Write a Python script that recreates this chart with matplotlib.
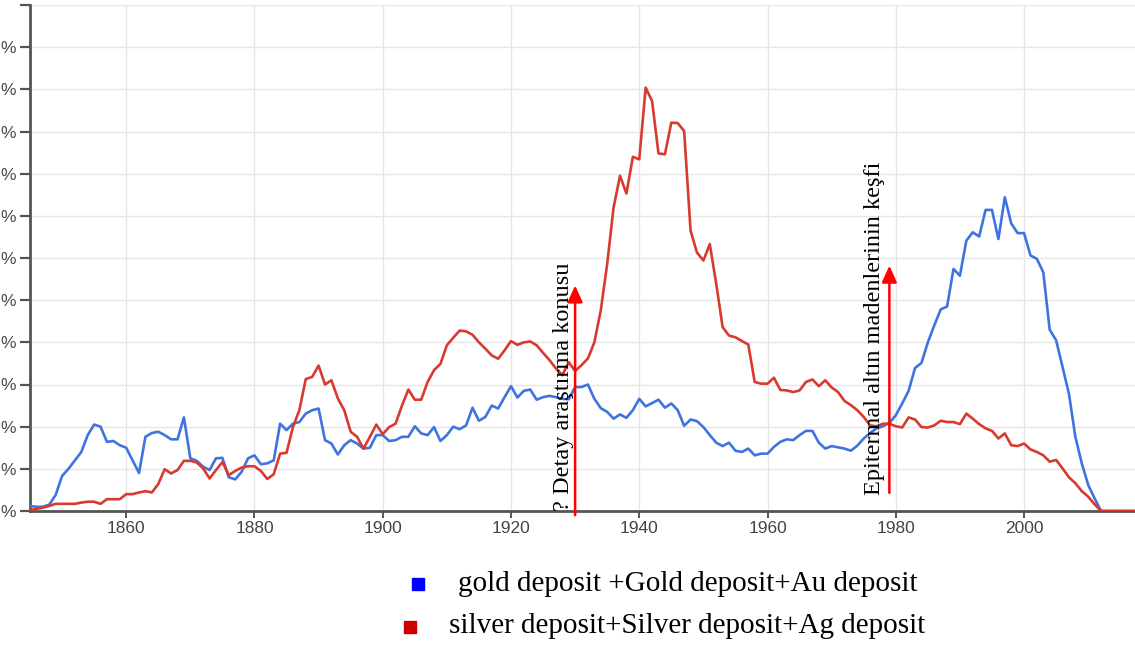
import numpy as np
import matplotlib
matplotlib.use('Agg')
import matplotlib.pyplot as plt
from matplotlib.patches import Rectangle

#################################################
# DATA (grid units)
#################################################
years = list(range(1845, 2020))

gold = [
    0.12, 0.10, 0.10, 0.15, 0.38, 0.83, 1.00, 1.20, 1.40, 1.80,   # 1845-1854
    2.05, 2.00, 1.64, 1.66, 1.56, 1.50, 1.20, 0.90, 1.76, 1.85,   # 1855-1864
    1.88, 1.80, 1.70, 1.70, 2.22, 1.25, 1.19, 1.05, 0.97, 1.25,   # 1865-1874
    1.26, 0.80, 0.75, 0.93, 1.25, 1.32, 1.11, 1.13, 1.20, 2.07,   # 1875-1884
    1.92, 2.07, 2.11, 2.31, 2.39, 2.43, 1.68, 1.60, 1.34, 1.56,   # 1885-1894
    1.68, 1.60, 1.48, 1.50, 1.80, 1.80, 1.66, 1.68, 1.76, 1.76,   # 1895-1904
    2.01, 1.84, 1.80, 1.99, 1.66, 1.80, 2.00, 1.94, 2.03, 2.45,   # 1905-1914
    2.14, 2.23, 2.50, 2.43, 2.70, 2.96, 2.69, 2.85, 2.88, 2.64,   # 1915-1924
    2.70, 2.73, 2.70, 2.66, 2.65, 2.94, 2.94, 3.00, 2.66, 2.44,   # 1925-1934
    2.35, 2.19, 2.29, 2.21, 2.39, 2.66, 2.48, 2.56, 2.64, 2.45,   # 1935-1944
    2.55, 2.39, 2.02, 2.17, 2.13, 1.99, 1.80, 1.62, 1.54, 1.62,   # 1945-1954
    1.43, 1.40, 1.48, 1.32, 1.36, 1.36, 1.52, 1.64, 1.70, 1.68,   # 1955-1964
    1.80, 1.90, 1.90, 1.62, 1.48, 1.54, 1.51, 1.48, 1.43, 1.55,   # 1965-1974
    1.72, 1.85, 1.96, 2.01, 2.09, 2.27, 2.55, 2.85, 3.39, 3.51,   # 1975-1984
    4.00, 4.40, 4.78, 4.85, 5.74, 5.58, 6.41, 6.61, 6.51, 7.14,   # 1985-1994
    7.14, 6.45, 7.44, 6.82, 6.59, 6.59, 6.06, 5.98, 5.66, 4.30,   # 1995-2004
    4.05, 3.41, 2.78, 1.76, 1.13, 0.62, 0.30, 0.00, 0.00, 0.00,   # 2005-2014
    0.00, 0.00, 0.00, 0.00, 0.00,                                 # 2015-2019
]

silver = [
    0.02, 0.05, 0.08, 0.12, 0.17, 0.17, 0.17, 0.17, 0.20, 0.22,   # 1845-1854
    0.22, 0.17, 0.28, 0.28, 0.28, 0.40, 0.40, 0.44, 0.47, 0.44,   # 1855-1864
    0.64, 0.99, 0.89, 0.97, 1.19, 1.19, 1.15, 1.01, 0.77, 0.97,   # 1865-1874
    1.16, 0.85, 0.95, 1.03, 1.06, 1.06, 0.95, 0.76, 0.87, 1.36,   # 1875-1884
    1.38, 1.99, 2.39, 3.13, 3.18, 3.45, 3.00, 3.10, 2.67, 2.39,   # 1885-1894
    1.88, 1.76, 1.48, 1.76, 2.05, 1.82, 1.99, 2.07, 2.50, 2.88,   # 1895-1904
    2.64, 2.64, 3.06, 3.34, 3.49, 3.93, 4.11, 4.28, 4.26, 4.18,   # 1905-1914
    4.00, 3.85, 3.69, 3.61, 3.81, 4.03, 3.94, 4.00, 4.02, 3.93,   # 1915-1924
    3.75, 3.58, 3.38, 3.22, 3.53, 3.32, 3.46, 3.62, 4.00, 4.76,   # 1925-1934
    5.86, 7.20, 7.95, 7.53, 8.40, 8.34, 10.04, 9.72, 8.48, 8.46,  # 1935-1944
    9.21, 9.20, 9.01, 6.65, 6.13, 5.94, 6.33, 5.39, 4.36, 4.16,   # 1945-1954
    4.12, 4.03, 3.95, 3.06, 3.02, 3.02, 3.16, 2.87, 2.86, 2.82,   # 1955-1964
    2.86, 3.06, 3.12, 2.96, 3.10, 2.93, 2.82, 2.61, 2.51, 2.39,   # 1965-1974
    2.23, 2.03, 2.01, 2.07, 2.07, 2.01, 1.98, 2.22, 2.17, 1.99,   # 1975-1984
    1.98, 2.03, 2.14, 2.11, 2.11, 2.06, 2.31, 2.19, 2.06, 1.96,   # 1985-1994
    1.90, 1.72, 1.84, 1.56, 1.54, 1.60, 1.46, 1.40, 1.32, 1.17,   # 1995-2004
    1.21, 1.01, 0.80, 0.66, 0.47, 0.34, 0.16, 0.00, 0.00, 0.00,   # 2005-2014
    0.00, 0.00, 0.00, 0.00, 0.00,                                 # 2015-2019
]

x_ticks = [1860, 1880, 1900, 1920, 1940, 1960, 1980, 2000]
y_ticks = list(range(0, 13))
# the reference only shows the trailing "%" of each y label
y_labels = ['%'] * 12 + ['']

legend_labels = ['gold deposit +Gold deposit+Au deposit',
                 'silver deposit+Silver deposit+Ag deposit']

notes = ['? Detay araştırma konusu', 'Epitermal altın madenlerinin keşfi']
note_years = [1930, 1979]
note_tails = [-0.1, 0.43]
note_heads = [5.35, 5.82]

#################################################
# PLOT
#################################################
W, H = 1135, 646
fig = plt.figure(figsize=(W / 100, H / 100), dpi=100)
ax = fig.add_axes([30 / W, (H - 511) / H, 1 - 30 / W, (511 - 5) / H])

ax.plot(years, gold, color='#3f74e0', lw=1.9, zorder=3)
ax.plot(years, silver, color='#d83a2f', lw=1.9, zorder=4)

ax.set_xlim(1845, 2017.3)
ax.set_ylim(0, 12)

ax.set_xticks(x_ticks)
ax.set_yticks(y_ticks)
ax.set_yticklabels(y_labels)
ax.grid(True, color='#e6e6e6', lw=1.0, zorder=0)

for s in ['top', 'right']:
    ax.spines[s].set_visible(False)
for s in ['left', 'bottom']:
    ax.spines[s].set_color('#555555')
    ax.spines[s].set_linewidth(2.0)

ax.tick_params(axis='y', length=7, width=1.6, color='#555555',
               labelsize=12.5, labelcolor='#4a4a4a', pad=3)
ax.tick_params(axis='x', length=5, width=1.4, color='#555555',
               labelsize=12.5, labelcolor='#444444', pad=2)
for lab in ax.get_xticklabels() + ax.get_yticklabels():
    lab.set_fontfamily('Liberation Sans')

# annotations
for txt, yr, y0, y1 in zip(notes, note_years, note_tails, note_heads):
    ax.annotate('', xy=(yr, y1), xytext=(yr, y0),
                arrowprops=dict(arrowstyle='-|>,head_length=1.0,head_width=0.45',
                                color='#ff0000', lw=1.8, shrinkA=0, shrinkB=0),
                annotation_clip=False, zorder=6)

ax.text(1928.2, 0.0, notes[0], rotation=90, ha='center', va='bottom',
        fontsize=17.5, family='Liberation Serif', color='black', zorder=5)
ax.text(1976.7, 0.38, notes[1], rotation=90, ha='center', va='bottom',
        fontsize=17.5, family='Liberation Serif', color='black', zorder=5)

# legend below the plot
sq = 12
fig.add_artist(Rectangle((412 / W, (H - 590) / H), sq / W, sq / H,
                         transform=fig.transFigure, color='#0000ff'))
fig.add_artist(Rectangle((404 / W, (H - 633) / H), sq / W, sq / H,
                         transform=fig.transFigure, color='#cc0000'))
fig.text(458 / W, (H - 584) / H, legend_labels[0], ha='left', va='center',
         fontsize=21, family='Liberation Serif')
fig.text(449 / W, (H - 626) / H, legend_labels[1], ha='left', va='center',
         fontsize=21, family='Liberation Serif')

plt.savefig('out.png', dpi=100)
